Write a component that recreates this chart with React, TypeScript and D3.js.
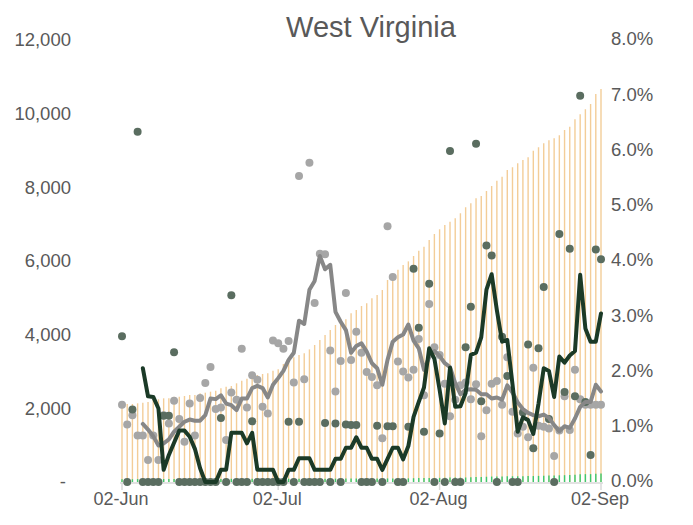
import React from "react";
import * as d3 from "d3";

// West Virginia, 2 Jun – 2 Sep: one entry per day.
const firstDay = new Date(2020, 5, 2);

// Cumulative confirmed cases (left axis)
const cumulativeCases = [
  2091, 2118, 2118, 2136, 2154, 2172, 2226, 2245, 2272, 2272,
  2316, 2316, 2335, 2362, 2362, 2408, 2425, 2452, 2479, 2544,
  2588, 2606, 2679, 2750, 2804, 2842, 2905, 2932, 2951, 3022,
  3060, 3204, 3312, 3385, 3448, 3494, 3600, 3720, 3855, 3991,
  4127, 4263, 4325, 4417, 4580, 4670, 4778, 4851, 4987, 5077,
  5213, 5484, 5574, 5760, 5891, 5990, 6136, 6280, 6388, 6570,
  6733, 6861, 6977, 7067, 7160, 7295, 7458, 7567, 7702, 7765,
  7901, 8036, 8180, 8289, 8471, 8544, 8653, 8742, 8816, 8995,
  9087, 9196, 9277, 9331, 9413, 9557, 9646, 9847, 9983, 10119,
  10262, 10534, 10670,
];

// Cumulative deaths (left axis)
const cumulativeDeaths = [
  74, 74, 75, 79, 79, 79, 79, 79, 80, 81,
  83, 83, 83, 83, 83, 83, 83, 83, 83, 84,
  84, 87, 87, 87, 87, 88, 88, 88, 88, 88,
  88, 88, 89, 89, 90, 90, 90, 90, 90, 91,
  91, 92, 92, 93, 94, 95, 95, 95, 95, 96,
  96, 97, 98, 98, 98, 99, 103, 106, 107, 111,
  111, 112, 112, 119, 119, 119, 122, 126, 134, 136,
  142, 148, 148, 152, 155, 155, 155, 157, 161, 162,
  166, 172, 174, 174, 182, 185, 193, 196, 210, 213,
  214, 223, 232,
];

// Daily growth of cases, % (right axis)
const caseGrowth = [
  1.40, 1.04, 1.21, 0.84, 0.84, 0.40, 0.84, 0.40, 1.21, 1.06,
  1.47, 1.14, 0.73, 1.42, 0.84, 1.52, 1.79, 2.08, 1.32, 1.35,
  0.76, 1.62, 1.49, 2.41, 1.35, 1.93, 1.85, 1.36, 1.24, 2.56,
  2.51, 2.41, 2.55, 1.80, 5.54, 1.86, 5.78, 3.24, 4.13, 4.12,
  2.38, 1.64, 2.19, 3.42, 2.21, 2.72, 2.34, 1.99, 1.90, 1.75,
  0.79, 4.63, 3.71, 2.18, 2.00, 1.89, 2.03, 2.59, 1.57, 3.22,
  2.44, 2.30, 1.78, 1.19, 1.49, 1.75, 1.80, 1.50, 1.77, 0.83,
  1.30, 1.78, 1.83, 1.40, 2.26, 1.27, 0.88, 1.00, 0.81, 2.07,
  1.02, 1.00, 0.97, 0.47, 0.93, 1.55, 0.94, 2.03, 1.50, 1.40,
  1.40, 1.40, 1.40,
];

// Daily growth of deaths, % (right axis)
const deathGrowth = [
  2.64, 0, 1.31, 6.34, 0, 0, 0, 0, 1.20, 1.20,
  2.35, 0, 0, 0, 0, 0, 0, 0, 0, 1.16,
  0, 3.38, 0, 0, 0, 1.10, 0, 0, 0, 0,
  0, 0, 1.09, 0, 1.09, 0, 0, 0, 0, 1.07,
  0, 1.06, 0, 1.04, 1.03, 1.03, 0, 0, 0, 1.02,
  0, 1.01, 1.01, 0, 0, 1.00, 3.86, 2.79, 0.91, 3.59,
  0, 0.88, 0, 5.99, 0, 0, 2.44, 3.17, 6.12, 1.46,
  4.28, 4.10, 0, 2.63, 1.92, 0, 0, 1.26, 2.49, 0.61,
  2.42, 3.53, 1.14, 0, 4.49, 1.63, 4.22, 1.55, 6.99, 1.45,
  0.49, 4.21, 4.03,
];

// Rolling averages of the two growth rates, % (right axis)
const caseGrowthAvg = [
  null, null, null, null, 1.05, 0.95, 0.83, 0.66, 0.70, 0.77,
  0.91, 1.00, 1.09, 1.13, 1.11, 1.11, 1.21, 1.51, 1.50, 1.57,
  1.42, 1.39, 1.30, 1.51, 1.51, 1.70, 1.74, 1.70, 1.53, 1.76,
  1.88, 2.01, 2.21, 2.34, 2.92, 2.86, 3.48, 3.64, 4.09, 3.85,
  3.93, 3.08, 2.90, 2.75, 2.34, 2.46, 2.51, 2.36, 2.15, 2.06,
  1.76, 2.21, 2.54, 2.62, 2.67, 2.85, 2.56, 2.42, 2.03, 2.26,
  2.37, 2.28, 2.15, 2.08, 1.79, 1.59, 1.67, 1.68, 1.67, 1.59,
  1.59, 1.51, 1.53, 1.49, 1.75, 1.62, 1.44, 1.32, 1.25, 1.21,
  1.19, 1.22, 1.16, 1.03, 0.92, 1.01, 0.98, 1.15, 1.36, 1.45,
  1.45, 1.76, 1.64,
];

const deathGrowthAvg = [
  null, null, null, null, 2.06, 1.55, 1.54, 1.33, 0.22, 0.49,
  0.71, 0.93, 0.93, 0.82, 0.60, 0.25, 0, 0, 0, 0.22,
  0.22, 0.89, 0.89, 0.89, 0.70, 0.89, 0.22, 0.22, 0.22, 0.22,
  0, 0, 0.22, 0.22, 0.43, 0.43, 0.43, 0.22, 0.22, 0.22,
  0.22, 0.42, 0.42, 0.62, 0.62, 0.81, 0.62, 0.62, 0.42, 0.42,
  0.22, 0.42, 0.62, 0.62, 0.41, 0.65, 1.18, 1.45, 1.71, 2.42,
  2.23, 1.67, 1.06, 2.07, 1.36, 1.37, 1.61, 2.30, 2.34, 2.62,
  3.48, 3.76, 3.11, 2.54, 2.57, 1.77, 0.91, 1.17, 1.12, 0.87,
  1.42, 2.06, 2.01, 1.54, 2.27, 2.16, 2.29, 2.37, 3.75, 2.78,
  2.54, 2.54, 3.05,
];

const leftTicks = [0, 2000, 4000, 6000, 8000, 10000, 12000];
const rightTicks = [0, 1, 2, 3, 4, 5, 6, 7, 8];
const dateTicks = ["2020-06-02", "2020-07-02", "2020-08-02", "2020-09-02"];

const W = 693;
const H = 525;
const FONT = "'Liberation Sans', Arial, sans-serif";
const TEXT = "#595959";

export default function App() {
  const days = cumulativeCases.map((_, i) => d3.timeDay.offset(firstDay, i));
  const x = d3
    .scaleTime()
    .domain([firstDay, days[days.length - 1]])
    .range([122, 601]);
  const yLeft = d3.scaleLinear().domain([0, 12000]).range([482, 40]);
  const yRight = d3.scaleLinear().domain([0, 8]).range([482, 40]);

  const fmtLeft = (v: number) => (v === 0 ? "-" : d3.format(",")(v));
  const fmtRight = d3.format(".1f");
  const fmtDate = d3.timeFormat("%d-%b");
  const parse = d3.timeParse("%Y-%m-%d");

  const line = d3
    .line<number | null>()
    .defined((d) => d != null)
    .x((_, i) => x(days[i]))
    .y((d) => yRight(d as number));

  return (
    <div style={{ position: "absolute", left: 0, top: 0 }}>
      <svg width={W} height={H} style={{ display: "block", fontFamily: FONT }}>
        <rect width={W} height={H} fill="#ffffff" />

        <text x={371} y={37} textAnchor="middle" fontSize={29} fill={TEXT}>
          West Virginia
        </text>

        {/* cumulative cases */}
        <g>
          {cumulativeCases.map((v, i) => (
            <line
              key={i}
              x1={x(days[i])}
              x2={x(days[i])}
              y1={yLeft(v)}
              y2={yLeft(0)}
              stroke="#f3cd98"
              strokeWidth={1.4}
            />
          ))}
        </g>

        {/* cumulative deaths */}
        <g>
          {cumulativeDeaths.map((v, i) => (
            <line
              key={i}
              x1={x(days[i])}
              x2={x(days[i])}
              y1={yLeft(v)}
              y2={yLeft(0)}
              stroke="#3cc96f"
              strokeWidth={1.4}
            />
          ))}
        </g>

        {/* bottom axis */}
        <line x1={120} x2={603} y1={483} y2={483} stroke="#d9d9d9" strokeWidth={1.5} />
        {dateTicks.map((s) => {
          const d = parse(s) as Date;
          return (
            <g key={s}>
              <line x1={x(d)} x2={x(d)} y1={483} y2={490} stroke="#d9d9d9" strokeWidth={1.5} />
              <text x={x(d) - 1} y={505} textAnchor="middle" fontSize={18} fill={TEXT}>
                {fmtDate(d)}
              </text>
            </g>
          );
        })}

        {leftTicks.map((t) => (
          <text
            key={t}
            x={t === 0 ? 66 : 71}
            y={yLeft(t)}
            dy="0.35em"
            textAnchor="end"
            fontSize={18.5}
            fill={TEXT}
          >
            {fmtLeft(t)}
          </text>
        ))}

        {rightTicks.map((t) => (
          <text key={t} x={611} y={yRight(t) - 1} dy="0.35em" textAnchor="start" fontSize={18.5} fill={TEXT}>
            {fmtRight(t)}%
          </text>
        ))}

        {/* daily growth dots */}
        <g>
          {caseGrowth.map((v, i) => (
            <circle key={i} cx={x(days[i])} cy={yRight(v)} r={4} fill="#a6a6a6" />
          ))}
        </g>
        <g>
          {deathGrowth.map((v, i) => (
            <circle key={i} cx={x(days[i])} cy={yRight(v)} r={4} fill="#5a6d60" />
          ))}
        </g>

        {/* rolling averages */}
        <path
          d={line(caseGrowthAvg) || ""}
          fill="none"
          stroke="#878787"
          strokeWidth={4}
          strokeLinejoin="round"
          strokeLinecap="round"
        />
        <path
          d={line(deathGrowthAvg) || ""}
          fill="none"
          stroke="#1b3a27"
          strokeWidth={4}
          strokeLinejoin="round"
          strokeLinecap="round"
        />
      </svg>
    </div>
  );
}
